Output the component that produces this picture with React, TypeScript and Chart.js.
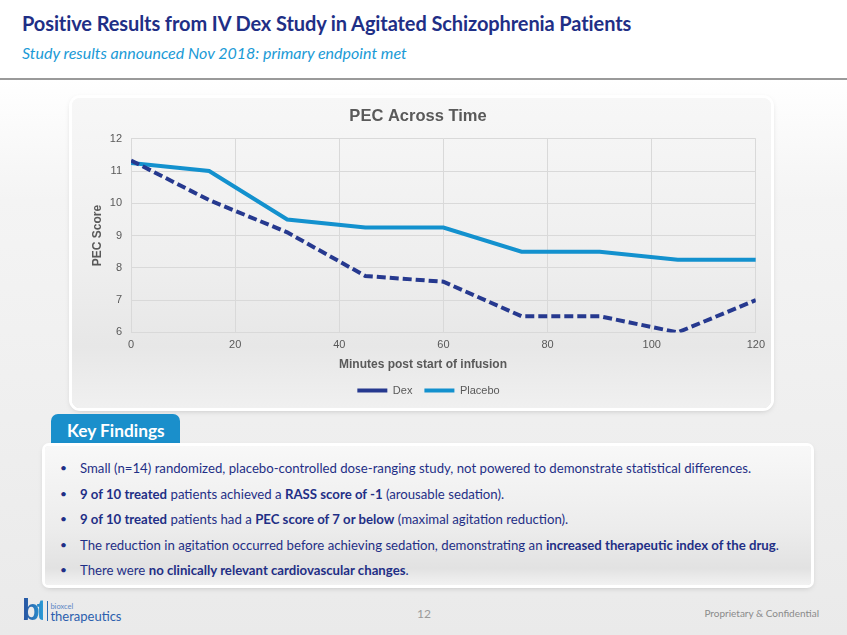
import React, { useEffect, useRef } from "react";
import { Chart, registerables } from "chart.js";

Chart.register(...registerables);

const minutes = [0, 15, 30, 45, 60, 75, 90, 105, 120];
const dexValues = [11.33, 10.1, 9.1, 7.75, 7.57, 6.5, 6.5, 6.0, 7.0];
const placeboValues = [11.25, 11.0, 9.5, 9.25, 9.25, 8.5, 8.5, 8.25, 8.25];
const seriesNames = ["Dex", "Placebo"];
const chartTitle = "PEC Across Time";
const xTitle = "Minutes post start of infusion";
const yTitle = "PEC Score";

const findings: { text: string; bold: boolean }[][] = [
  [{ text: "Small (n=14) randomized, placebo-controlled dose-ranging study, not powered to demonstrate statistical differences.", bold: false }],
  [
    { text: "9 of 10 treated", bold: true },
    { text: " patients achieved a ", bold: false },
    { text: "RASS score of -1", bold: true },
    { text: " (arousable sedation).", bold: false },
  ],
  [
    { text: "9 of 10 treated", bold: true },
    { text: " patients had a ", bold: false },
    { text: "PEC score of 7 or below", bold: true },
    { text: " (maximal agitation reduction).", bold: false },
  ],
  [
    { text: "The reduction in agitation occurred before achieving sedation, demonstrating an ", bold: false },
    { text: "increased therapeutic index of the drug", bold: true },
    { text: ".", bold: false },
  ],
  [
    { text: "There were ", bold: false },
    { text: "no clinically relevant cardiovascular changes", bold: true },
    { text: ".", bold: false },
  ],
];

const GRAY = "#595959";
const DEX = "#26398F";
const PLACEBO = "#1391CE";
const NAVY = "#1F2F86";
const BODY_FONT = "Lato, 'Liberation Sans', sans-serif";
const ARIAL = "'Liberation Sans', Arial, sans-serif";

const PAD_TOP = 9;
const TITLE_SIZE = 16.5;
const X_TITLE_PAD_BOTTOM = 1;

const centeredTitles = {
  id: "centeredTitles",
  afterDraw(chart: any) {
    const sx = chart.scales.x;
    const ctx = chart.ctx;
    ctx.save();
    ctx.fillStyle = GRAY;
    ctx.textAlign = "center";
    ctx.textBaseline = "middle";
    ctx.font = `bold ${TITLE_SIZE}px ${ARIAL}`;
    ctx.fillText(chartTitle, 346, PAD_TOP + (TITLE_SIZE * 1.2) / 2);
    ctx.font = `bold 12px ${ARIAL}`;
    ctx.fillText(xTitle, 351, sx.bottom - X_TITLE_PAD_BOTTOM - (12 * 1.2) / 2);
    ctx.restore();
  },
};

function PecChart() {
  const ref = useRef<HTMLCanvasElement | null>(null);
  useEffect(() => {
    if (!ref.current) return;
    const chart = new Chart(ref.current, {
      type: "line",
      data: {
        datasets: [
          {
            label: seriesNames[0],
            data: minutes.map((m, i) => ({ x: m, y: dexValues[i] })),
            borderColor: DEX,
            backgroundColor: DEX,
            borderWidth: 4,
            borderDash: [9, 4],
            pointRadius: 0,
            pointStyle: "line",
            tension: 0,
          },
          {
            label: seriesNames[1],
            data: minutes.map((m, i) => ({ x: m, y: placeboValues[i] })),
            borderColor: PLACEBO,
            backgroundColor: PLACEBO,
            borderWidth: 4,
            pointRadius: 0,
            pointStyle: "line",
            tension: 0,
          },
        ],
      },
      plugins: [centeredTitles],
      options: {
        animation: false,
        responsive: false,
        maintainAspectRatio: false,
        layout: { padding: { left: 28, right: 14, top: PAD_TOP, bottom: 2 } },
        plugins: {
          title: {
            display: true,
            text: chartTitle,
            color: "rgba(0,0,0,0)",
            font: { family: ARIAL, size: TITLE_SIZE, weight: "bold" },
            padding: { top: 0, bottom: 12 },
          },
          legend: {
            position: "bottom",
            labels: {
              usePointStyle: true,
              pointStyle: "line",
              pointStyleWidth: 30,
              boxHeight: 8,
              color: GRAY,
              font: { family: ARIAL, size: 11 },
              padding: 12,
            },
          },
          tooltip: { enabled: false },
        },
        scales: {
          x: {
            type: "linear",
            min: 0,
            max: 120,
            ticks: { stepSize: 20, color: GRAY, font: { family: ARIAL, size: 11 }, padding: 6 },
            grid: { color: "#D9D9D9", lineWidth: 1, drawTicks: false },
            border: { color: "#D9D9D9" },
            title: {
              display: true,
              text: xTitle,
              color: "rgba(0,0,0,0)",
              font: { family: ARIAL, size: 12, weight: "bold" },
              padding: { top: 0, bottom: X_TITLE_PAD_BOTTOM },
            },
          },
          y: {
            min: 6,
            max: 12,
            ticks: { stepSize: 1, color: GRAY, font: { family: ARIAL, size: 11 }, padding: 9 },
            grid: { color: "#D9D9D9", lineWidth: 1, drawTicks: false },
            border: { color: "#D9D9D9" },
            title: {
              display: true,
              text: yTitle,
              color: GRAY,
              font: { family: ARIAL, size: 12, weight: "bold" },
              padding: { top: -10, bottom: -3.6 },
            },
          },
        },
      },
    });
    return () => chart.destroy();
  }, []);
  return <canvas ref={ref} width={699} height={310} style={{ position: "absolute", left: 0, top: 0, width: 699, height: 310 }} />;
}

export default function App() {
  return (
    <div
      style={{
        position: "fixed",
        left: 0,
        top: 0,
        width: 847,
        height: 635,
        overflow: "hidden",
        background: "linear-gradient(180deg, #ffffff 0px, #ffffff 80px, #f4f4f4 200px, #eaeaea 635px)",
        fontFamily: BODY_FONT,
      }}
    >
      <div style={{ position: "absolute", left: 22, top: 11, fontSize: 20, fontWeight: 700, color: NAVY, whiteSpace: "nowrap", letterSpacing: -0.1 }}>
        Positive Results from IV Dex Study in Agitated Schizophrenia Patients
      </div>
      <div style={{ position: "absolute", left: 22, top: 43, fontSize: 16, fontStyle: "italic", color: "#1A9AD6", whiteSpace: "nowrap" }}>
        Study results announced Nov 2018: primary endpoint met
      </div>
      <div style={{ position: "absolute", left: 0, top: 78, width: 847, height: 2, background: "#9a9a9a" }} />

      <div
        style={{
          position: "absolute",
          left: 72,
          top: 98,
          width: 699,
          height: 310,
          borderRadius: 8,
          background: "linear-gradient(180deg, #f7f7f7 0%, #eeeeee 55%, #e7e7e7 80%, #f0f0f0 100%)",
          boxShadow: "0 0 0 3px #ffffff, 0 2px 6px rgba(0,0,0,0.25)",
        }}
      >
        <PecChart />
      </div>

      <div
        style={{
          position: "absolute",
          left: 51,
          top: 414,
          width: 129,
          height: 30,
          background: "#1A8FCB",
          borderRadius: "7px 7px 0 0",
          color: "#ffffff",
          fontWeight: 700,
          fontSize: 17.3,
          lineHeight: "33px",
          paddingLeft: 16,
          boxSizing: "border-box",
          overflow: "hidden",
        }}
      >
        Key Findings
      </div>
      <div
        style={{
          position: "absolute",
          left: 45,
          top: 446,
          width: 766,
          height: 139,
          borderRadius: 4,
          background: "linear-gradient(180deg, #f8f8f8 0%, #ececec 60%, #e2e2e2 88%, #f2f2f2 100%)",
          boxShadow: "0 0 0 3px #ffffff, 0 2px 6px rgba(0,0,0,0.25)",
        }}
      >
        {findings.map((parts, i) => (
          <div
            key={i}
            style={{
              position: "absolute",
              left: 35,
              top: 14 + i * 25.5,
              fontSize: 13.2,
              lineHeight: "16px",
              color: NAVY,
              whiteSpace: "nowrap",
            }}
          >
            <span style={{ position: "absolute", left: -20, fontSize: 12 }}>•</span>
            {parts.map((p, j) => (
              <span key={j} style={{ fontWeight: p.bold ? 700 : 400 }}>
                {p.text}
              </span>
            ))}
          </div>
        ))}
      </div>

      <div style={{ position: "absolute", left: 22, top: 598, display: "flex", alignItems: "flex-end" }}>
        <div
          style={{
            fontSize: 29,
            fontWeight: 900,
            lineHeight: "25px",
            letterSpacing: -3,
            fontFamily: ARIAL,
            background: "linear-gradient(90deg, #274d9c, #2a9ad6)",
            WebkitBackgroundClip: "text",
            color: "transparent",
          }}
        >
          bt
        </div>
        <div style={{ width: 1, height: 20, background: "#2a6ab3", margin: "0 2px 2px 4px" }} />
        <div style={{ display: "flex", flexDirection: "column", lineHeight: 1 }}>
          <span style={{ fontSize: 7.5, color: "#5b86c4" }}>bioxcel</span>
          <span style={{ fontSize: 13, color: "#2b5fae", fontFamily: BODY_FONT }}>therapeutics</span>
        </div>
      </div>
      <div style={{ position: "absolute", left: 417, top: 606, fontSize: 12, color: "#9a9a9a" }}>12</div>
      <div style={{ position: "absolute", right: 28, top: 607, fontSize: 10, color: "#8a8a8a" }}>Proprietary &amp; Confidential</div>
    </div>
  );
}
